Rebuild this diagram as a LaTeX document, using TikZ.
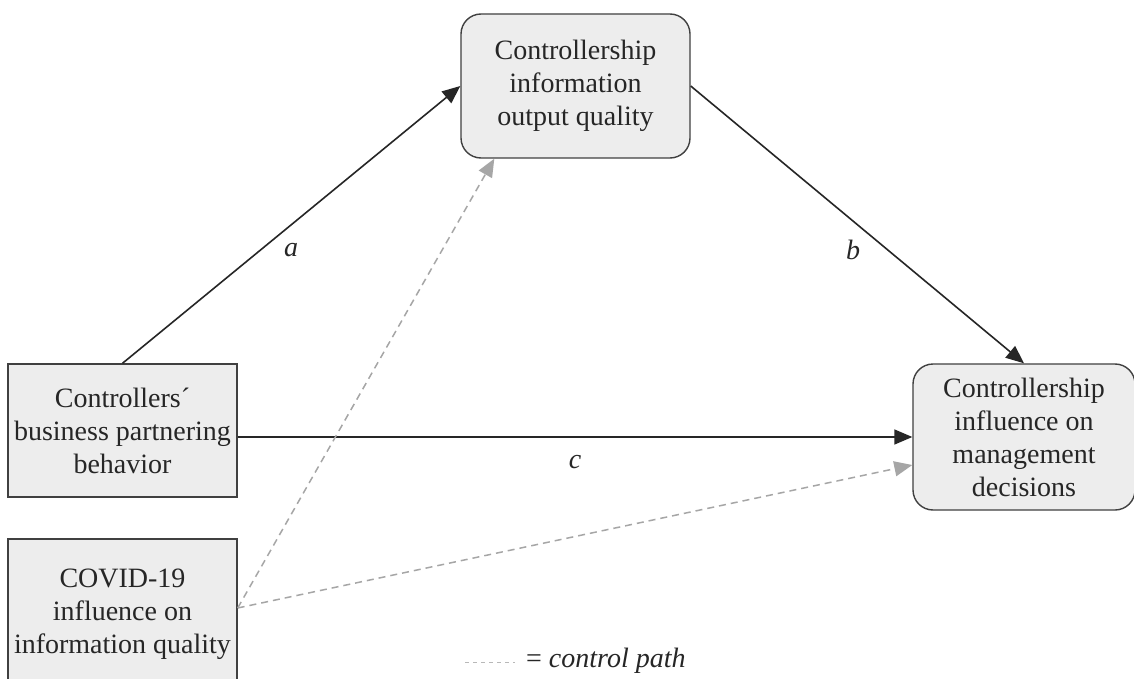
\documentclass[tikz,border=0pt]{standalone}
\usepackage{fontspec}
\setmainfont{Liberation Serif}
\usetikzlibrary{arrows.meta,calc}
\definecolor{boxfill}{HTML}{EDEDED}
\definecolor{boxline}{HTML}{404040}
\definecolor{ctrlgray}{HTML}{A6A6A6}
\tikzset{
  varbox/.style={draw=boxline, fill=boxfill, line width=1.4pt, inner sep=0pt,
    align=center, font=\fontsize{28}{33}\selectfont, text=black!85},
  roundbox/.style={varbox, rounded corners=20pt},
  mainpath/.style={draw=black!85, line width=1.6pt,
    -{Triangle[length=18pt,width=15pt]}},
  ctrlpath/.style={draw=ctrlgray, line width=1.5pt, dash pattern=on 7pt off 5pt,
    -{Triangle[length=18pt,width=15pt]}},
  pathlabel/.style={font=\fontsize{28}{33}\selectfont\itshape, text=black!85}
}
\begin{document}
\begin{tikzpicture}[x=1pt,y=-1pt]
\useasboundingbox (0,0) rectangle (1134,679);
\clip (0,0) rectangle (1134,679);
\fill[white] (0,0) rectangle (1134,679);

% variables
\node[varbox, minimum width=229pt, minimum height=133pt] (xbp) at (122.5,430.5)
  {Controllers´\\business partnering\\behavior};
\node[varbox, minimum width=229pt, minimum height=151pt] (cov) at (122.5,614.5)
  {COVID-19\\influence on\\information quality};
\node[roundbox, minimum width=229pt, minimum height=144pt] (mq) at (575.5,86)
  {Controllership\\information\\output quality};
\node[roundbox, minimum width=222pt, minimum height=146pt] (yin) at (1024,437)
  {Controllership\\influence on\\management\\decisions};

% mediation paths
\draw[mainpath] (xbp.north) -- (mq.west);
\draw[mainpath] (mq.east) -- (yin.north);
\draw[mainpath] (xbp.east |- yin.west) -- (yin.west);

% control paths
\coordinate (covout) at ([yshift=6.5pt]cov.east);
\draw[ctrlpath] (covout) -- ([xshift=34pt]mq.south west);
\draw[ctrlpath] (covout) -- ([yshift=-28pt]yin.west);

% path labels
\node[pathlabel] (la) at (291,250) {a};
\node[pathlabel] (lb) at (853,250) {b};
\node[pathlabel] (lc) at (575,462) {c};

% legend
\coordinate (lg1) at (465,662);
\coordinate (lg2) at (515,662);
\draw[draw=ctrlgray!80, line width=1pt, dash pattern=on 4pt off 4pt] (lg1) -- (lg2);
\node[pathlabel, anchor=west, inner sep=0pt] (lgt) at (526,661)
  {{\upshape =} control path};
\end{tikzpicture}
\end{document}
